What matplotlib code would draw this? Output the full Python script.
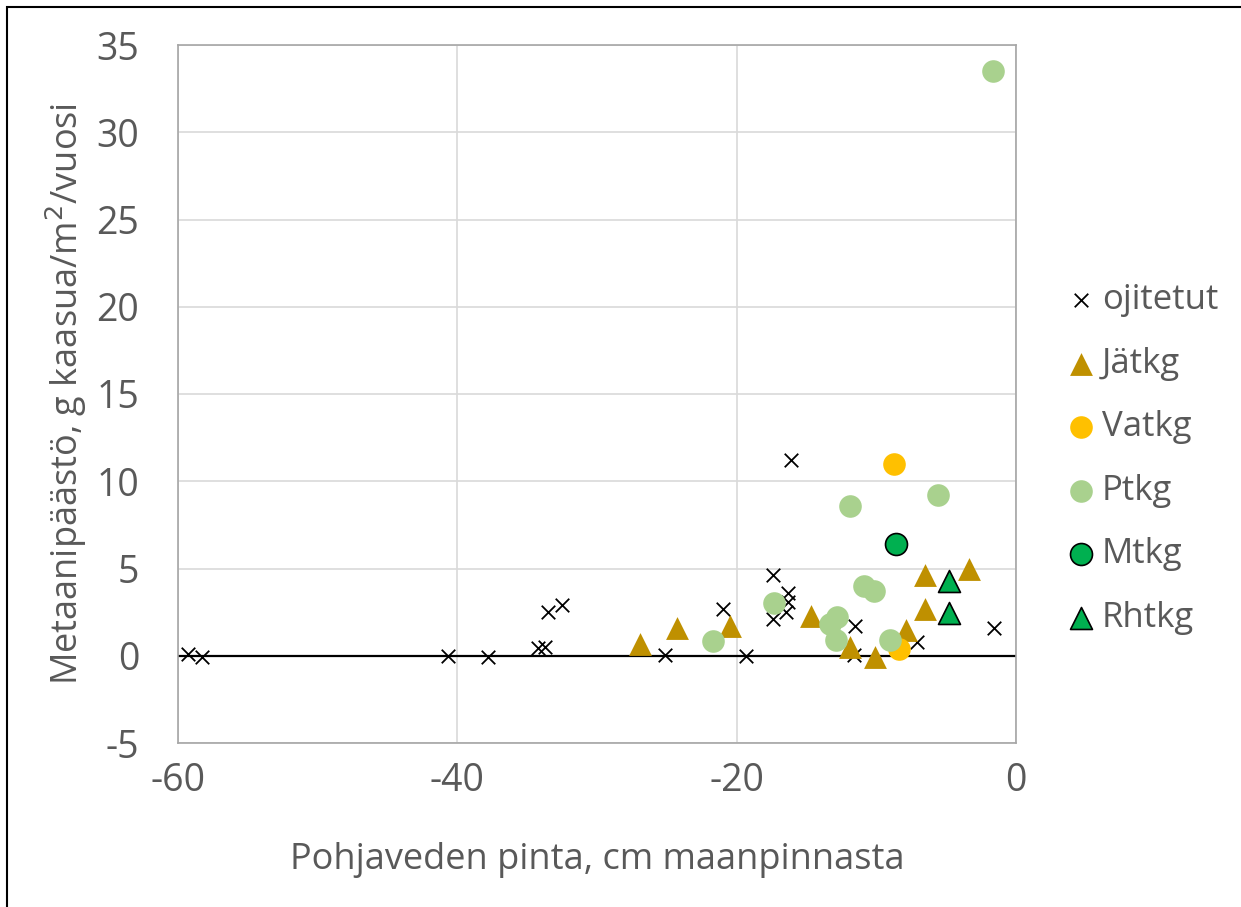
import matplotlib.pyplot as plt
from matplotlib.patches import Rectangle

plt.rcParams['font.family'] = ['Open Sans', 'DejaVu Sans']
plt.rcParams['axes.unicode_minus'] = False

# data
ojit_x = [-59.3, -58.3, -40.7, -37.8, -34.2, -33.7, -33.5, -32.5, -25.1, -21.0,
          -19.3, -17.4, -17.4, -16.3, -16.3, -16.5, -16.1, -11.5, -11.6, -7.1, -1.6]
ojit_y = [0.1, -0.1, 0.0, -0.1, 0.45, 0.5, 2.5, 2.9, 0.05, 2.7,
          0.0, 4.6, 2.1, 3.6, 3.1, 2.5, 11.2, 1.7, 0.05, 0.8, 1.6]

jat_x = [-26.9, -24.3, -20.5, -14.7, -11.9, -10.1, -7.9, -6.5, -6.5, -3.4]
jat_y = [0.7, 1.6, 1.7, 2.25, 0.5, -0.08, 1.5, 2.7, 4.6, 5.0]

vat_x = [-8.7, -8.4]
vat_y = [11.0, 0.4]

pt_x = [-1.65, -11.9, -5.6, -10.9, -10.2, -17.3, -21.7, -12.8, -13.3, -12.9, -9.0]
pt_y = [33.5, 8.6, 9.2, 4.0, 3.7, 3.05, 0.86, 2.2, 1.8, 0.9, 0.9]

mt_x = [-8.6]
mt_y = [6.4]

rht_x = [-4.8, -4.8]
rht_y = [4.3, 2.45]

txt = '#595959'
fig = plt.figure(figsize=(12.41, 9.07), dpi=100)
ax = fig.add_axes([178 / 1241, 1 - 743 / 907, (1016 - 178) / 1241, (743 - 45) / 907])

ax.axhline(0, color='black', lw=1.6, zorder=1)
ax.scatter(ojit_x, ojit_y, marker='x', s=95, color='black', linewidths=1.3, label='ojitetut', zorder=3)
ax.scatter(jat_x, jat_y, marker='^', s=270, color='#BF9000', linewidths=0, label='Jätkg', zorder=3)
ax.scatter(vat_x, vat_y, marker='o', s=265, color='#FFC000', linewidths=0, label='Vatkg', zorder=3)
ax.scatter(pt_x, pt_y, marker='o', s=265, color='#A9D18E', linewidths=0, label='Ptkg', zorder=3)
ax.scatter(mt_x, mt_y, marker='o', s=250, color='#00B050', edgecolors='black', linewidths=1.2, label='Mtkg', zorder=3)
ax.scatter(rht_x, rht_y, marker='^', s=250, color='#00B050', edgecolors='black', linewidths=1.2, label='Rhtkg', zorder=3)

ax.set_xlim(-60, 0)
ax.set_ylim(-5, 35)
ax.set_xticks(range(-60, 1, 20))
ax.set_yticks(range(-5, 36, 5))
ax.grid(True, color='#D9D9D9', lw=1.2, zorder=0)
ax.set_axisbelow(True)
ax.tick_params(length=0, labelsize=27, labelcolor=txt)
ax.tick_params(axis='y', pad=28)
ax.tick_params(axis='x', pad=14)
for s in ax.spines.values():
    s.set_color('#A6A6A6')
    s.set_linewidth(1.2)

ax.set_xlabel('Pohjaveden pinta, cm maanpinnasta', fontsize=26, color=txt, labelpad=30)
ax.set_ylabel('Metaanipäästö, g kaasua/m$^2$/vuosi', fontsize=26, color=txt, labelpad=5)

leg = fig.legend(loc='center left', bbox_to_anchor=(1050 / 1241, 1 - 459 / 907), frameon=False,
                 fontsize=25, labelcolor=txt, handletextpad=0.1, labelspacing=0.85,
                 handlelength=1.0, borderaxespad=0)

# outer frame of the picture
fig.patches.append(Rectangle((7 / 1241, -0.1), 1.2, 1 - 7 / 907 + 0.1, transform=fig.transFigure,
                             fill=False, edgecolor='black', lw=1.5))

fig.savefig('out.png', dpi=100)
